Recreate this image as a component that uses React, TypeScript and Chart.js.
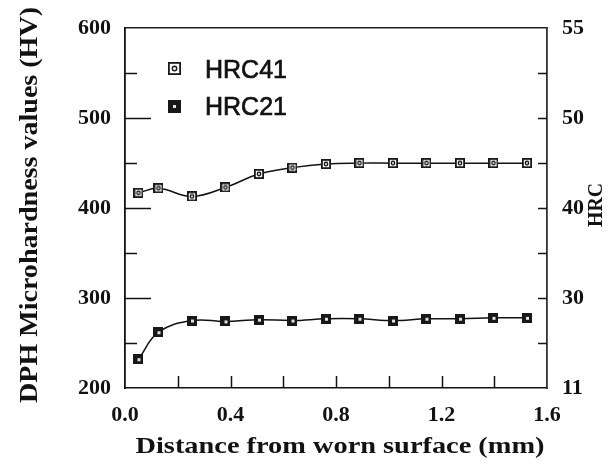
import React, { useEffect, useRef } from 'react';
import { Chart, registerables } from 'chart.js';

Chart.register(...registerables);

const distanceMm = [0.051, 0.127, 0.254, 0.381, 0.508, 0.635, 0.762, 0.889, 1.016, 1.143, 1.27, 1.397, 1.524];
const hrc41HV = [417, 422, 413, 423, 438, 445, 449, 450, 450, 450, 450, 450, 450];
const hrc21HV = [232, 262, 275, 274, 276, 275, 277, 277, 275, 277, 277, 278, 278];
const hvTicks = [200, 300, 400, 500, 600];
const hrcTickLabels = ['11', '30', '40', '50', '55'];
const xTicks = [0, 0.4, 0.8, 1.2, 1.6];
const xTickLabels = ['0.0', '0.4', '0.8', '1.2', '1.6'];
const seriesNames = ['HRC41', 'HRC21'];
const xTitle = 'Distance from worn surface (mm)';
const yTitle = 'DPH Microhardness values (HV)';
const y2Title = 'HRC';

const INK = '#121212';
const SERIF = '"Liberation Serif", "Times New Roman", serif';
const SANS = '"Liberation Sans", Arial, sans-serif';

function makeMarker(size: number, dark: boolean): HTMLCanvasElement {
  const c = document.createElement('canvas');
  c.width = size;
  c.height = size;
  const g = c.getContext('2d')!;
  if (dark) {
    g.fillStyle = '#181818';
    g.fillRect(0, 0, size, size);
    g.fillStyle = '#e0e0e0';
    const d = Math.max(2, Math.round(size * 0.25));
    g.fillRect(Math.round((size - d) / 2), Math.round((size - d) / 2), d, d);
  } else {
    g.fillStyle = '#fff';
    g.fillRect(0, 0, size, size);
    g.strokeStyle = '#181818';
    g.lineWidth = 1.8;
    g.strokeRect(0.9, 0.9, size - 1.8, size - 1.8);
    g.beginPath();
    g.arc(size / 2, size / 2, size * 0.17, 0, Math.PI * 2);
    g.lineWidth = 1.4;
    g.stroke();
  }
  return c;
}

function fitText(ctx: CanvasRenderingContext2D, text: string, font: string, cx: number, cy: number, width: number, rot: number, stroke = 0) {
  ctx.save();
  ctx.font = font;
  ctx.fillStyle = INK;
  ctx.strokeStyle = INK;
  ctx.translate(cx, cy);
  ctx.rotate(rot);
  const w = ctx.measureText(text).width;
  ctx.scale(width / w, 1);
  ctx.textAlign = 'center';
  ctx.textBaseline = 'alphabetic';
  ctx.fillText(text, 0, 0);
  if (stroke > 0) {
    ctx.lineWidth = stroke;
    ctx.strokeText(text, 0, 0);
  }
  ctx.restore();
}

export default function App() {
  const ref = useRef<HTMLCanvasElement | null>(null);

  useEffect(() => {
    if (!ref.current) return;
    const m41 = makeMarker(10, false);
    const m21 = makeMarker(10, true);
    const l41 = makeMarker(13, false);
    const l21 = makeMarker(13, true);

    const decor = {
      id: 'decor',
      afterDraw(chart: any) {
        const { ctx, chartArea: a, scales } = chart;
        const ys = scales.y;
        const xs = scales.x;
        ctx.save();
        ctx.strokeStyle = INK;
        ctx.lineWidth = 1.5;
        const line = (x1: number, y1: number, x2: number, y2: number) => {
          ctx.beginPath();
          ctx.moveTo(x1, y1);
          ctx.lineTo(x2, y2);
          ctx.stroke();
        };
        for (let v = 250; v < 600; v += 50) {
          const py = Math.round(ys.getPixelForValue(v)) + 0.5;
          const len = v % 100 === 0 ? 26 : 12;
          line(a.left, py, a.left + len, py);
          line(a.right - 9, py, a.right, py);
        }
        for (let i = 1; i < 8; i++) {
          const px = Math.round(xs.getPixelForValue(i * 0.2)) + 0.5;
          line(px, a.bottom, px, a.bottom - 12);
        }
        ctx.restore();

        fitText(ctx, xTitle, `bold 24px ${SERIF}`, 340, 453, 409, 0);
        fitText(ctx, yTitle, `bold 26px ${SERIF}`, 37, 205, 396, -Math.PI / 2);
        fitText(ctx, y2Title, `bold 22px ${SERIF}`, 602, 205, 44, -Math.PI / 2);

        ctx.drawImage(l41, 168, 62);
        ctx.drawImage(l21, 168, 100);
        fitText(ctx, seriesNames[0], `26px ${SANS}`, 246, 78, 82, 0, 0.7);
        fitText(ctx, seriesNames[1], `26px ${SANS}`, 246, 115, 82, 0, 0.7);
      },
    };

    const tickFont = { family: SERIF, size: 22, weight: 'bold' as const };

    const chart = new Chart(ref.current, {
      type: 'line',
      data: {
        datasets: [
          {
            label: seriesNames[0],
            data: distanceMm.map((x, i) => ({ x, y: hrc41HV[i] })),
            borderColor: INK,
            borderWidth: 1.5,
            pointStyle: m41 as any,
            tension: 0.4,
            xAxisID: 'x',
            yAxisID: 'y',
          },
          {
            label: seriesNames[1],
            data: distanceMm.map((x, i) => ({ x, y: hrc21HV[i] })),
            borderColor: INK,
            borderWidth: 1.5,
            pointStyle: m21 as any,
            tension: 0.4,
            xAxisID: 'x',
            yAxisID: 'y',
          },
        ],
      },
      options: {
        responsive: false,
        maintainAspectRatio: false,
        animation: false,
        layout: { padding: 0 },
        plugins: { legend: { display: false }, tooltip: { enabled: false } },
        scales: {
          x: {
            type: 'linear',
            position: 'bottom',
            min: 0,
            max: 1.6,
            afterBuildTicks: (s: any) => {
              s.ticks = xTicks.map((v) => ({ value: v }));
            },
            ticks: {
              callback: (_v: any, i: number) => xTickLabels[i],
              font: tickFont,
              color: INK,
              padding: 14,
              maxRotation: 0,
              autoSkip: false,
            },
            grid: { display: false, drawTicks: false },
            border: { display: true, color: INK, width: 1.5 },
            afterFit: (s: any) => {
              s.height = 76;
            },
          },
          xTop: {
            type: 'linear',
            position: 'top',
            min: 0,
            max: 1.6,
            ticks: { display: false },
            grid: { display: false, drawTicks: false },
            border: { display: true, color: '#222', width: 1.5 },
            afterFit: (s: any) => {
              s.height = 19;
            },
          },
          y: {
            type: 'linear',
            position: 'left',
            min: 200,
            max: 600,
            afterBuildTicks: (s: any) => {
              s.ticks = hvTicks.map((v) => ({ value: v }));
            },
            ticks: {
              callback: (v: any) => String(v),
              font: tickFont,
              color: INK,
              padding: 14,
            },
            grid: { display: false, drawTicks: false },
            border: { display: true, color: INK, width: 1.8 },
            afterFit: (s: any) => {
              s.width = 125;
            },
          },
          y2: {
            type: 'linear',
            position: 'right',
            min: 200,
            max: 600,
            afterBuildTicks: (s: any) => {
              s.ticks = hvTicks.map((v) => ({ value: v }));
            },
            ticks: {
              callback: (v: any) => hrcTickLabels[hvTicks.indexOf(Number(v))],
              font: tickFont,
              color: INK,
              padding: 15,
            },
            grid: { display: false, drawTicks: false },
            border: { display: true, color: '#333', width: 1.8 },
            afterFit: (s: any) => {
              s.width = 68;
            },
          },
        },
      },
      plugins: [decor],
    });
    return () => chart.destroy();
  }, []);

  return (
    <div style={{ position: 'absolute', left: 0, top: 0, width: 615, height: 464, background: '#fff' }}>
      <canvas ref={ref} width={615} height={464} style={{ display: 'block' }} />
    </div>
  );
}
